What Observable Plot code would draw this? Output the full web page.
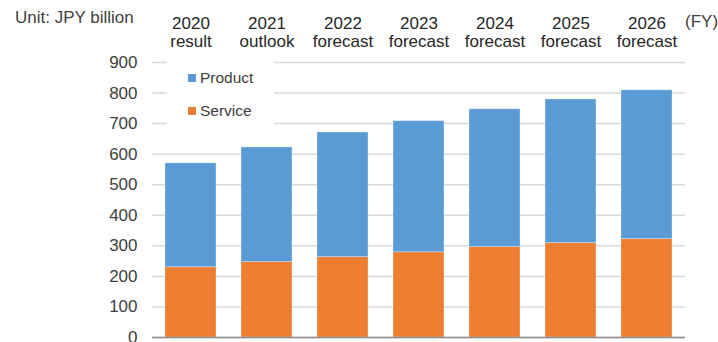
<!DOCTYPE html>
<html>
<head>
<meta charset="utf-8">
<script src="https://cdn.jsdelivr.net/npm/d3@7"></script>
<script src="https://cdn.jsdelivr.net/npm/@observablehq/plot@0.6"></script>
<style>
  html, body { margin: 0; padding: 0; background: #fff; overflow: hidden; }
  #wrap { position: relative; width: 718px; height: 342px; font-family: "Liberation Sans", Arial, sans-serif; color: #404040; }
  .note { position: absolute; font-size: 17px; line-height: 17px; white-space: nowrap; }
  #legend { position: absolute; left: 167px; top: 60px; width: 107px; height: 66px; background: #fff; }
  .item { position: absolute; left: 21px; font-size: 15.5px; line-height: 16px; white-space: nowrap; }
  .sw { display: inline-block; width: 8px; height: 8px; margin-right: 4px; vertical-align: 1px; }
</style>
</head>
<body>
<div id="wrap">
  <div id="chart"></div>
  <div class="note" style="left:15px; top:9px;">Unit: JPY billion</div>
  <div class="note" style="left:685px; top:13px;">(FY)</div>
  <div id="legend"></div>
</div>
<script>
const years = ["2020", "2021", "2022", "2023", "2024", "2025", "2026"];
const stages = ["result", "outlook", "forecast", "forecast", "forecast", "forecast", "forecast"];
const product = [340, 375, 408, 429, 451, 470, 487];
const service = [230, 247, 263, 279, 296, 309, 322];
const seriesNames = ["Service", "Product"];
const seriesColors = ["#ED7D31", "#5B9BD5"];
const yTicks = [0, 100, 200, 300, 400, 500, 600, 700, 800, 900];

const rows = [];
years.forEach((y, i) => {
  rows.push({year: y, series: "Service", value: service[i]});
  rows.push({year: y, series: "Product", value: product[i]});
});
const labelOf = Object.fromEntries(years.map((y, i) => [y, y + "\n" + stages[i]]));

const chart = Plot.plot({
  width: 718,
  height: 342,
  marginTop: 62,
  marginBottom: 5,
  marginLeft: 152,
  marginRight: 33,
  style: {fontFamily: "Liberation Sans, Arial, sans-serif", color: "#404040", background: "#fff"},
  x: {type: "band", domain: years, paddingInner: 0.33, paddingOuter: 0.165, axis: null},
  y: {domain: [0, 900], axis: null},
  color: {domain: seriesNames, range: seriesColors},
  marks: [
    Plot.gridY(yTicks, {stroke: "#d9d9d9", strokeOpacity: 1, strokeWidth: 1.5}),
    Plot.barY(rows, Plot.stackY({order: seriesNames, x: "year", y: "value", fill: "series", stroke: "#ffffff", strokeOpacity: 0.3, strokeWidth: 1})),
    Plot.ruleY([0], {stroke: "#8c8c8c", strokeWidth: 1.5}),
    Plot.axisY(yTicks, {label: null, tickSize: 0, tickPadding: 15, fontSize: 17, fill: "#404040"}),
    Plot.axisX({anchor: "top", label: null, tickSize: 0, tickPadding: 16, fontSize: 17, lineHeight: 1.05, fill: "#262626", tickFormat: d => labelOf[d]})
  ]
});
document.getElementById("chart").appendChild(chart);

const legend = document.getElementById("legend");
const legendOrder = ["Product", "Service"];
legendOrder.forEach((name, i) => {
  const div = document.createElement("div");
  div.className = "item";
  div.style.top = (10 + i * 33) + "px";
  const sw = document.createElement("span");
  sw.className = "sw";
  sw.style.background = seriesColors[seriesNames.indexOf(name)];
  div.appendChild(sw);
  div.appendChild(document.createTextNode(name));
  legend.appendChild(div);
});
</script>
</body>
</html>
